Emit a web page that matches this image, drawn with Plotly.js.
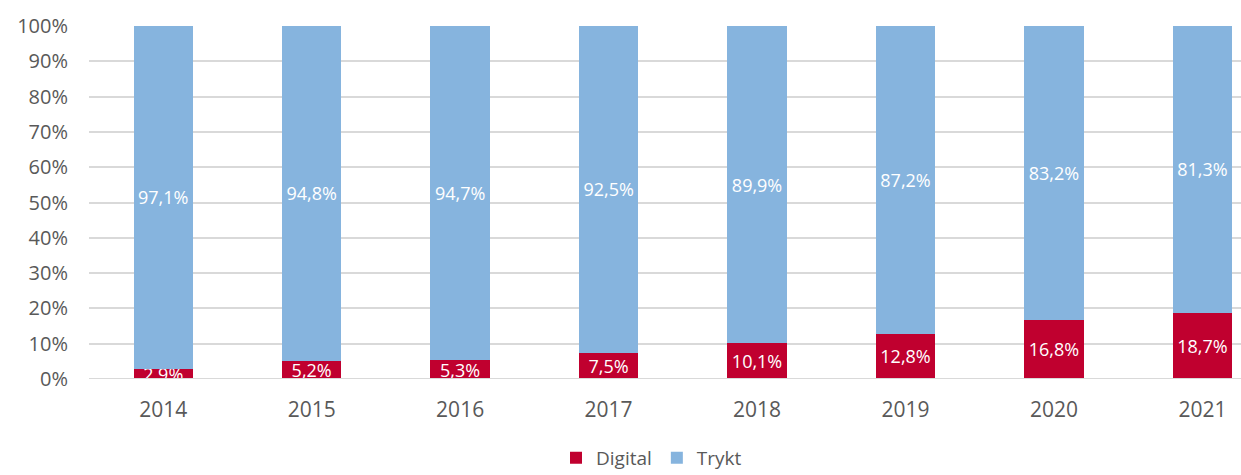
<!DOCTYPE html>
<html>
<head>
<meta charset="utf-8">
<script src="https://cdn.plot.ly/plotly-3.0.1.min.js"></script>
<style>html,body{margin:0;padding:0;background:#fff;}#chart{width:1241px;height:475px;}</style>
</head>
<body>
<div id="chart"></div>
<script>
const years = ['2014','2015','2016','2017','2018','2019','2020','2021'];
const digital = [2.9, 5.2, 5.3, 7.5, 10.1, 12.8, 16.8, 18.7];
const trykt = [97.1, 94.8, 94.7, 92.5, 89.9, 87.2, 83.2, 81.3];
const yTicks = [0,10,20,30,40,50,60,70,80,90,100];

const fmt = v => v.toFixed(1).replace('.', ',') + '%';
const FONT = '"Open Sans", sans-serif';

const traces = [
  {
    type: 'bar', name: 'Digital', x: years, y: digital,
    marker: {color: '#C0002F'},
    text: digital.map(fmt), textposition: 'inside', insidetextanchor: 'middle',
    textfont: {color: '#ffffff', size: 18, family: FONT},
    constraintext: 'none', cliponaxis: false, hoverinfo: 'skip'
  },
  {
    type: 'bar', name: 'Trykt', x: years, y: trykt,
    marker: {color: '#86B4DE'},
    text: trykt.map(fmt), textposition: 'inside', insidetextanchor: 'middle',
    textfont: {color: '#ffffff', size: 18, family: FONT},
    constraintext: 'none', hoverinfo: 'skip'
  }
];

const layout = {
  width: 1241, height: 475,
  margin: {l: 89, r: 0, t: 26, b: 96},
  barmode: 'stack', bargap: 0.6,
  paper_bgcolor: '#ffffff', plot_bgcolor: '#ffffff',
  font: {family: FONT, color: '#595959', size: 20},
  uniformtext: {mode: 'show', minsize: 18},
  showlegend: true,
  legend: {orientation: 'h', x: 0.525, xref: 'container', xanchor: 'center',
           y: 0.036, yref: 'container', yanchor: 'middle',
           font: {size: 19, color: '#595959'}, traceorder: 'normal', itemwidth: 30},
  xaxis: {
    type: 'category', range: [-0.5, 7.26], showgrid: false, zeroline: false,
    showline: false, ticks: 'outside', ticklen: 12, tickcolor: 'rgba(0,0,0,0)',
    tickfont: {size: 21, color: '#595959'}, automargin: false
  },
  yaxis: {
    range: [0, 100], tickvals: yTicks, ticktext: yTicks.map(v => v + '%'),
    showgrid: true, gridcolor: '#D9D9D9', gridwidth: 2, zeroline: false,
    showline: false, ticks: 'outside', ticklen: 16, tickcolor: 'rgba(0,0,0,0)',
    tickfont: {size: 20, color: '#595959'}, automargin: false
  },
  shapes: [{type: 'line', xref: 'paper', yref: 'y', x0: 0, x1: 1, y0: 0, y1: 0,
            line: {color: '#D9D9D9', width: 2}, layer: 'above'}]
};

Plotly.newPlot('chart', traces, layout, {displayModeBar: false, staticPlot: true});
</script>
</body>
</html>
